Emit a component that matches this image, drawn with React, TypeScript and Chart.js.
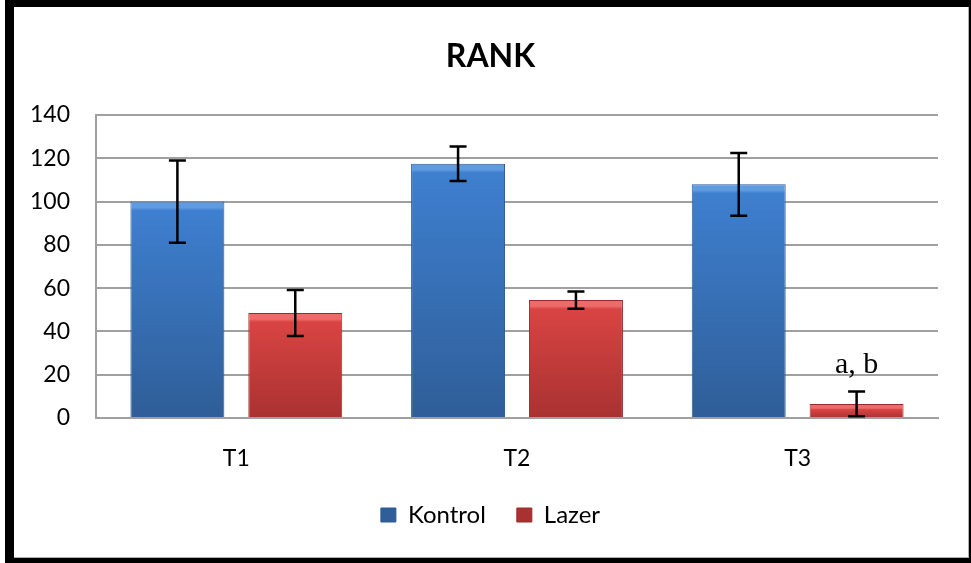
import React, { useEffect, useRef } from "react";
import { Chart, registerables } from "chart.js";

Chart.register(...registerables);

const categories = ["T1", "T2", "T3"];
const kontrolValues = [100, 117.5, 108];
const kontrolErrors = [19, 8, 14.5];
const lazerValues = [48.5, 54.5, 6.5];
const lazerErrors = [10.6, 4, 5.7];
const lazerNotes = ["", "", "a, b"];
const yTickValues = [0, 20, 40, 60, 80, 100, 120, 140];

const FONT = "Lato, 'Open Sans', sans-serif";

function barGradient(top: string, bottom: string, flat: string) {
  return (c: any) => {
    const ch = c.chart;
    const ys = ch.scales && ch.scales.y;
    if (!ys || c.type !== "data" || !ch.chartArea) return flat;
    const yTop = ys.getPixelForValue(c.raw);
    const yBot = ys.getPixelForValue(0);
    if (!isFinite(yTop) || !isFinite(yBot) || yBot - yTop < 1) return flat;
    const g = ch.ctx.createLinearGradient(0, yTop, 0, yBot);
    g.addColorStop(0, top);
    g.addColorStop(Math.min(0.3, 6 / (yBot - yTop)), top);
    g.addColorStop(Math.min(0.4, 9 / (yBot - yTop)), flat);
    g.addColorStop(1, bottom);
    return g;
  };
}

const errorBarPlugin = {
  id: "errorBars",
  afterDatasetsDraw(chart: any) {
    const ctx = chart.ctx;
    const ys = chart.scales.y;
    chart.data.datasets.forEach((ds: any, di: number) => {
      const meta = chart.getDatasetMeta(di);
      const errs: number[] = ds.errors || [];
      const notes: string[] = ds.notes || [];
      meta.data.forEach((bar: any, i: number) => {
        const v = ds.data[i];
        const e = errs[i] || 0;
        const yHi = ys.getPixelForValue(v + e);
        const yLo = ys.getPixelForValue(v - e);
        const x = bar.x;
        ctx.save();
        ctx.strokeStyle = "#000";
        ctx.lineWidth = 2.5;
        ctx.beginPath();
        ctx.moveTo(x, yHi);
        ctx.lineTo(x, yLo);
        ctx.moveTo(x - 8.5, yHi);
        ctx.lineTo(x + 8.5, yHi);
        ctx.moveTo(x - 8.5, yLo);
        ctx.lineTo(x + 8.5, yLo);
        ctx.stroke();
        if (notes[i]) {
          ctx.fillStyle = "#000";
          ctx.font = "30px 'Liberation Serif', 'DejaVu Serif', serif";
          ctx.textAlign = "center";
          ctx.textBaseline = "alphabetic";
          ctx.fillText(notes[i], x, yHi - 19);
        }
        ctx.restore();
      });
    });
  },
};

export default function App() {
  const ref = useRef<HTMLCanvasElement | null>(null);

  useEffect(() => {
    if (!ref.current) return;
    const chart = new Chart(ref.current, {
      type: "bar",
      data: {
        labels: categories,
        datasets: [
          {
            label: "Kontrol",
            data: kontrolValues,
            errors: kontrolErrors,
            backgroundColor: barGradient("#5f9be0", "#2f5e98", "#3e7fcf"),
            borderColor: "#2c5a92",
            borderWidth: 1,
            categoryPercentage: 0.84,
            barPercentage: 0.797,
          } as any,
          {
            label: "Lazer",
            data: lazerValues,
            errors: lazerErrors,
            notes: lazerNotes,
            backgroundColor: barGradient("#ec6c6b", "#a83231", "#d84443"),
            borderColor: "#9a2d2c",
            borderWidth: 1,
            categoryPercentage: 0.84,
            barPercentage: 0.797,
          } as any,
        ],
      },
      options: {
        responsive: false,
        animation: false,
        devicePixelRatio: 1,
        layout: { padding: { left: 17, right: 17, top: 0, bottom: 21 } },
        plugins: {
          title: {
            display: true,
            text: "RANK",
            color: "#000",
            font: { family: FONT, size: 32, weight: "bold" },
            padding: { top: 30, bottom: 39.6 },
          },
          legend: {
            position: "bottom",
            labels: {
              color: "#000",
              font: { family: FONT, size: 24 },
              boxWidth: 15,
              boxHeight: 14,
              padding: 31,
            },
          },
          tooltip: { enabled: false },
        },
        scales: {
          x: {
            afterFit: (s: any) => {
              s.height = 54;
            },
            grid: { display: false, drawTicks: false },
            border: { display: true, color: "#a0a0a0", width: 2 },
            ticks: { color: "#000", font: { family: FONT, size: 23 }, padding: 27 },
          },
          y: {
            min: 0,
            max: 140,
            afterFit: (s: any) => {
              s.width = 65;
            },
            afterBuildTicks: (s: any) => {
              s.ticks = yTickValues.map((v) => ({ value: v }));
            },
            grid: { color: "#a0a0a0", lineWidth: 2, drawTicks: false },
            border: { display: true, color: "#a0a0a0", width: 2 },
            ticks: { color: "#000", font: { family: FONT, size: 23 }, padding: 26 },
          },
          yRight: {
            position: "right",
            display: true,
            afterFit: (s: any) => {
              s.width = 12;
            },
            grid: { display: false, drawTicks: false },
            border: { display: false },
            ticks: { display: false },
          },
        },
      },
      plugins: [errorBarPlugin],
    });
    return () => chart.destroy();
  }, []);

  return (
    <div style={{ position: "absolute", left: 0, top: 0, width: 971, height: 563, background: "#fff", overflow: "hidden" }}>
      <div
        style={{
          position: "absolute",
          left: 5,
          top: 0,
          width: 966,
          height: 563,
          boxSizing: "border-box",
          borderTop: "7px solid #000",
          borderLeft: "9px solid #000",
          borderRight: "2px solid #000",
          borderBottom: "5px solid #000",
        }}
      >
        <div
          style={{
            position: "absolute",
            inset: 0,
            borderRight: "1px solid #b0b0b0",
            borderBottom: "1px solid #b0b0b0",
          }}
        />
      </div>
      <canvas
        ref={ref}
        width={953}
        height={551}
        style={{ position: "absolute", left: 14, top: 7, width: 953, height: 551 }}
      />
    </div>
  );
}
